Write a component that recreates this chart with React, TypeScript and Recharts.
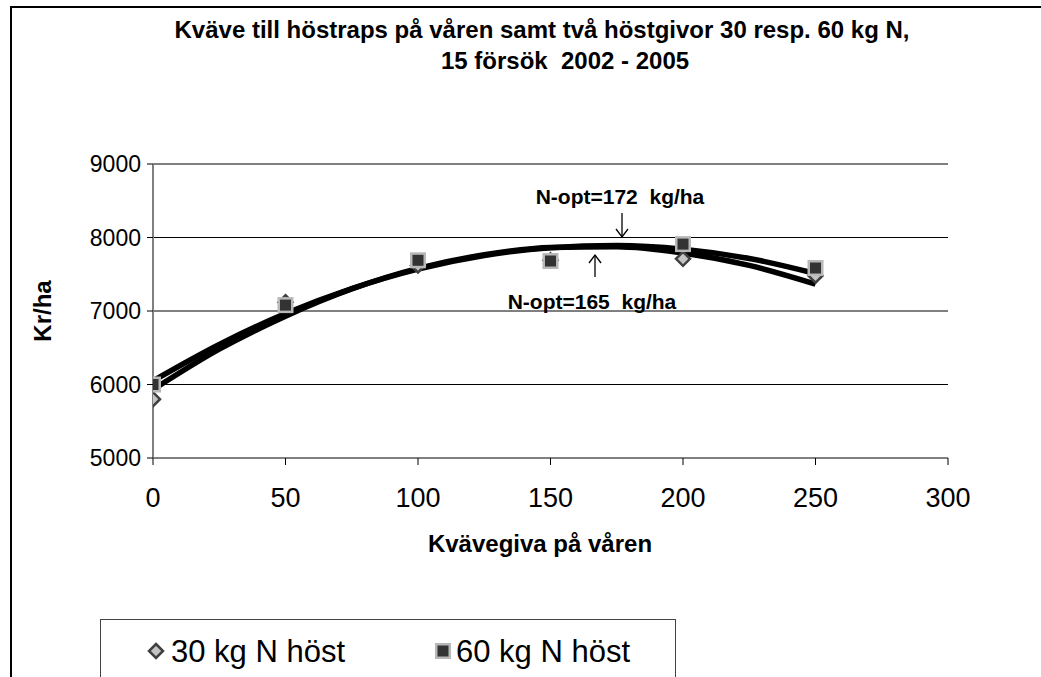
import React from 'react';
import { ComposedChart, XAxis, YAxis, CartesianGrid, Scatter, Line } from 'recharts';

const xTicks = [0, 50, 100, 150, 200, 250, 300];
const yTicks = [5000, 6000, 7000, 8000, 9000];
const nSpring = [0, 50, 100, 150, 200, 250];
const yield30 = [5800, 7120, 7620, 7690, 7710, 7480];
const yield60 = [6000, 7080, 7690, 7680, 7910, 7585];
const trendX = [0, 25, 50, 75, 100, 125, 150, 175, 200, 225, 250];
const trend30 = [5930, 6480, 6930, 7300, 7580, 7765, 7865, 7875, 7790, 7620, 7365];
const trend60 = [6050, 6545, 6965, 7305, 7570, 7755, 7860, 7890, 7840, 7715, 7510];

const title1 = 'Kväve till höstraps på våren samt två höstgivor 30 resp. 60 kg N,';
const title2 = '15 försök  2002 - 2005';
const xLabel = 'Kvävegiva på våren';
const yLabel = 'Kr/ha';
const legend30 = '30 kg N höst';
const legend60 = '60 kg N höst';
const note172 = 'N-opt=172  kg/ha';
const note165 = 'N-opt=165  kg/ha';

const FONT = 'Arial, "Liberation Sans", sans-serif';

const pts30 = nSpring.map((x, i) => ({ x, y: yield30[i] }));
const pts60 = nSpring.map((x, i) => ({ x, y: yield60[i] }));
const line30 = trendX.map((x, i) => ({ x, y: trend30[i] }));
const line60 = trendX.map((x, i) => ({ x, y: trend60[i] }));

const Diamond = (p: any) => {
  const { cx, cy } = p;
  const r = 7;
  return (
    <path
      d={`M${cx},${cy - r} L${cx + r},${cy} L${cx},${cy + r} L${cx - r},${cy} Z`}
      fill="#c4c4c4"
      stroke="#404040"
      strokeWidth={2.5}
    />
  );
};

const Square = (p: any) => {
  const { cx, cy } = p;
  return (
    <g>
      <rect x={cx - 8} y={cy - 8} width={16} height={16} fill="#b8b8b8" />
      <rect x={cx - 5.5} y={cy - 5.5} width={11} height={11} fill="#333333" />
    </g>
  );
};

const YLab = () => (
  <text
    x={42}
    y={311}
    transform="rotate(-90 42 311)"
    textAnchor="middle"
    dominantBaseline="central"
    fontFamily={FONT}
    fontWeight="bold"
    fontSize={24}
    fill="#000"
  >
    {yLabel}
  </text>
);

const XLab = () => (
  <text
    x={540}
    y={543}
    textAnchor="middle"
    dominantBaseline="central"
    fontFamily={FONT}
    fontWeight="bold"
    fontSize={24}
    fill="#000"
  >
    {xLabel}
  </text>
);

const pre = { whiteSpace: 'pre' as const };

export default function App() {
  return (
    <div style={{ position: 'absolute', left: 0, top: 0, width: 1041, height: 677, background: '#fff', overflow: 'hidden' }}>
      <div
        style={{
          position: 'absolute',
          left: 10,
          top: 6,
          width: 1029,
          height: 700,
          borderLeft: '2px solid #000',
          borderTop: '2px solid #000',
          borderRight: '2px solid #cccccc',
        }}
      />
      <div style={{ position: 'absolute', left: 0, top: 0 }}>
        <ComposedChart
          width={1041}
          height={677}
          margin={{ top: 164, right: 93, bottom: 189, left: 0 }}
        >
          <CartesianGrid horizontal={true} vertical={false} stroke="#000" strokeWidth={1} />
          <XAxis
            type="number"
            dataKey="x"
            domain={[0, 300]}
            ticks={xTicks}
            interval={0}
            height={30}
            tickSize={7}
            tickMargin={23}
            axisLine={{ stroke: '#808080', strokeWidth: 2 }}
            tickLine={{ stroke: '#000' }}
            tick={{ fill: '#000', fontSize: 27, fontFamily: FONT }}
            label={{ content: XLab }}
            allowDataOverflow
          />
          <YAxis
            type="number"
            domain={[5000, 9000]}
            ticks={yTicks}
            interval={0}
            width={153}
            tickSize={6}
            tickMargin={6}
            axisLine={{ stroke: '#808080', strokeWidth: 2 }}
            tickLine={{ stroke: '#000' }}
            tick={{ fill: '#000', fontSize: 23, fontFamily: FONT }}
            label={{ content: YLab }}
            allowDataOverflow
          />
          <Scatter data={pts30} dataKey="y" shape={Diamond} isAnimationActive={false} />
          <Scatter data={pts60} dataKey="y" shape={Square} isAnimationActive={false} />
          <Line data={line30} dataKey="y" type="monotone" stroke="#000" strokeWidth={5.5} dot={false} activeDot={false} isAnimationActive={false} />
          <Line data={line60} dataKey="y" type="monotone" stroke="#000" strokeWidth={5.5} dot={false} activeDot={false} isAnimationActive={false} />
        </ComposedChart>
      </div>
      <svg width={1041} height={677} style={{ position: 'absolute', left: 0, top: 0, pointerEvents: 'none' }}>
        <text x={542} y={38} textAnchor="middle" fontFamily={FONT} fontWeight="bold" fontSize={24} fill="#000" style={pre}>{title1}</text>
        <text x={565} y={69} textAnchor="middle" fontFamily={FONT} fontWeight="bold" fontSize={24} fill="#000" style={pre}>{title2}</text>
        <text x={620} y={204} textAnchor="middle" fontFamily={FONT} fontWeight="bold" fontSize={21} fill="#000" style={pre}>{note172}</text>
        <text x={592} y={309} textAnchor="middle" fontFamily={FONT} fontWeight="bold" fontSize={21} fill="#000" style={pre}>{note165}</text>
        <g stroke="#000" strokeWidth={1.3} fill="none">
          <line x1={622} y1={213} x2={622} y2={237} />
          <polyline points="616,229 622,237 628,229" />
          <line x1={595} y1={255} x2={595} y2={277} />
          <polyline points="589,263 595,255 601,263" />
        </g>
      </svg>
      <div
        style={{
          position: 'absolute',
          left: 100,
          top: 619,
          width: 574,
          height: 100,
          border: '1px solid #444',
          background: '#fff',
        }}
      />
      <svg width={1041} height={677} style={{ position: 'absolute', left: 0, top: 0 }}>
        <Diamond cx={156} cy={651} />
        <text x={171} y={662} fontFamily={FONT} fontSize={31} fill="#000" style={pre}>{legend30}</text>
        <Square cx={443} cy={651} />
        <text x={456} y={662} fontFamily={FONT} fontSize={31} fill="#000" style={pre}>{legend60}</text>
      </svg>
    </div>
  );
}
